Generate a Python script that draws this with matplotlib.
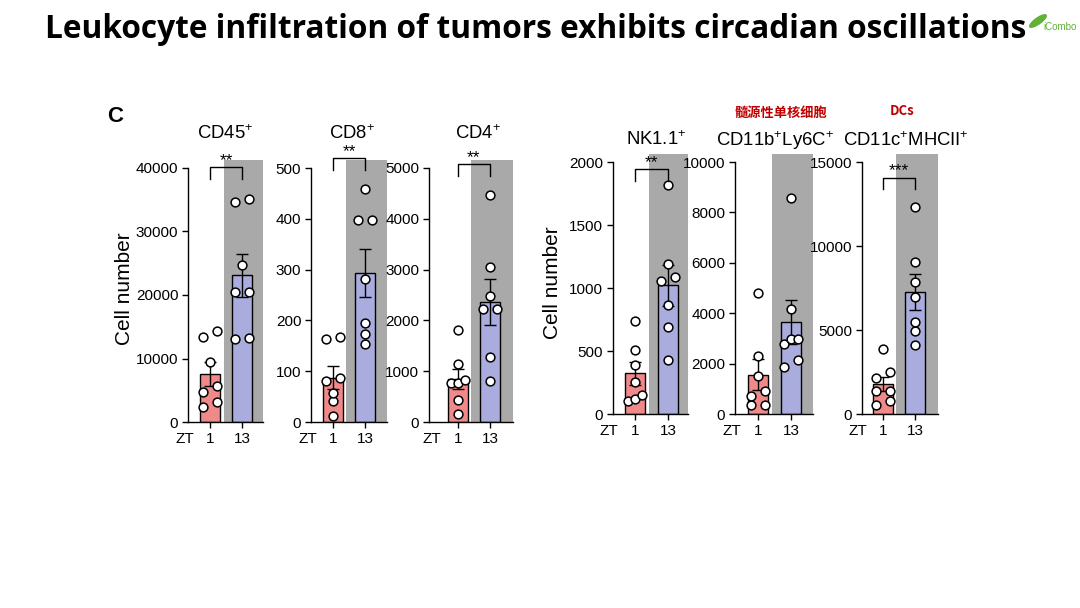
import numpy as np
import matplotlib.pyplot as plt
from matplotlib.patches import Ellipse

plt.rcParams['font.family'] = ['Liberation Sans', 'DejaVu Sans']
plt.rcParams['mathtext.fontset'] = 'custom'
plt.rcParams['mathtext.rm'] = 'Liberation Sans'
plt.rcParams['mathtext.default'] = 'regular'

W, H = 1080, 608

# data (7 mice per time point)
groups = ['1', '13']
titles = [r'CD45$^{+}$', r'CD8$^{+}$', r'CD4$^{+}$', r'NK1.1$^{+}$',
          r'CD11b$^{+}$Ly6C$^{+}$', r'CD11c$^{+}$MHCII$^{+}$']

cd45_zt1 = [2300, 3150, 4700, 5700, 9400, 13400, 14300]
cd45_zt13 = [13000, 13300, 20400, 20400, 24700, 34700, 35100]
cd8_zt1 = [11, 41, 58, 80, 87, 163, 168]
cd8_zt13 = [153, 174, 194, 282, 397, 397, 458]
cd4_zt1 = [150, 440, 770, 770, 822, 1150, 1810]
cd4_zt13 = [803, 1283, 2224, 2224, 2480, 3046, 4460]
nk_zt1 = [100, 119, 153, 253, 390, 504, 741]
nk_zt13 = [425, 694, 865, 1055, 1090, 1190, 1820]
ly6c_zt1 = [370, 370, 720, 920, 1490, 2300, 4800]
ly6c_zt13 = [1880, 2145, 2760, 2960, 2960, 4180, 8570]
dc_zt1 = [550, 750, 1340, 1340, 2130, 2525, 3850]
dc_zt13 = [4100, 4950, 5480, 6960, 7850, 9030, 12330]

zt1 = [cd45_zt1, cd8_zt1, cd4_zt1, nk_zt1, ly6c_zt1, dc_zt1]
zt13 = [cd45_zt13, cd8_zt13, cd4_zt13, nk_zt13, ly6c_zt13, dc_zt13]
ymax = [40000, 500, 5000, 2000, 10000, 15000]
ystep = [10000, 100, 1000, 500, 2000, 5000]
stars = ['**', '**', '**', '**', '', '***']

# layout, in pixels of the reference
ax_left = [188, 311, 429, 613, 735, 862]
ax_right = [263, 387, 513, 688, 813, 938]
x_lo = [-0.69, -0.69, -0.9, -0.67, -0.7, -0.66]
x_hi = [1.65, 1.69, 1.72, 1.6, 1.67, 1.72]
zero_px = [422, 422, 422, 414, 414, 414]
top_px = [168, 168, 168, 162, 162, 162]
bracket_frac = [0.973, 1.008, 0.985, 0.942, 0, 0.911]
title_x = [225, 352, 478, 656, 775, 906]
title_y = [134, 134, 134, 140, 141, 141]

c_zt1 = '#f08a8a'
c_zt13 = '#a9acdc'
c_shade = '#a9a9a9'


def swarm(vals, pos, px_per_unit, thresh=7, step=0.22):
    # spread points that overlap vertically, like the prism scatter
    v = np.sort(np.asarray(vals, dtype=float))
    clusters = [[0]]
    for k in range(1, len(v)):
        if (v[k] - v[k - 1]) * px_per_unit < thresh:
            clusters[-1].append(k)
        else:
            clusters.append([k])
    xs = np.zeros(len(v))
    for c in clusters:
        n = len(c)
        if n == 2:
            offs = [-step, step]
        else:
            offs = (np.arange(n) - (n - 1) / 2) * step
        for k, o in zip(c, offs):
            xs[k] = pos + o
    return xs, v


fig = plt.figure(figsize=(W / 100, H / 100), dpi=100)

for i in range(6):
    top = ymax[i] * 1.03
    h = (zero_px[i] - top_px[i]) * 1.03
    ax = fig.add_axes([ax_left[i] / W, 1 - zero_px[i] / H,
                       (ax_right[i] - ax_left[i]) / W, h / H])
    ax.set_xlim(x_lo[i], x_hi[i])
    ax.set_ylim(0, top)
    ax.patch.set_alpha(0)
    ax.axvspan(0.42, x_hi[i], color=c_shade, lw=0, zorder=0)

    a = np.array(zt1[i], dtype=float)
    b = np.array(zt13[i], dtype=float)
    means = [a.mean(), b.mean()]
    sems = [a.std(ddof=1) / np.sqrt(len(a)), b.std(ddof=1) / np.sqrt(len(b))]

    ax.bar([0, 1], means, width=0.62, color=[c_zt1, c_zt13],
           edgecolor='black', linewidth=1.0, zorder=2)
    ax.errorbar([0, 1], means, yerr=sems, fmt='none', ecolor='black',
                elinewidth=1.0, capsize=4.5, capthick=1.0, zorder=3)

    ppu = (zero_px[i] - top_px[i]) / ymax[i]
    for pos, vals in [(0, a), (1, b)]:
        xs, ys = swarm(vals, pos, ppu)
        ax.scatter(xs, ys, s=40, facecolor='white', edgecolor='black',
                   linewidth=1.1, zorder=4, clip_on=False)

    for s in ['top', 'right']:
        ax.spines[s].set_visible(False)
    ax.spines['left'].set_bounds(0, ymax[i])
    ax.spines['left'].set_linewidth(1.0)
    ax.spines['bottom'].set_linewidth(1.0)
    ax.set_yticks(np.arange(0, ymax[i] + 1, ystep[i]))
    ax.set_xticks([0, 1])
    ax.set_xticklabels(groups)
    ax.tick_params(direction='out', length=4, width=1.0, labelsize=11, pad=3)
    ax.annotate('ZT', xy=(-0.8, 0), xycoords=('data', 'axes fraction'),
                xytext=(0, -7), textcoords='offset points',
                ha='center', va='top', fontsize=11)

    if stars[i]:
        yb = bracket_frac[i] * top
        leg = 0.046 * top
        ax.plot([0, 0, 1, 1], [yb - leg, yb, yb, yb - leg], color='black',
                lw=1.0, clip_on=False, zorder=5)
        ax.annotate(stars[i], xy=(0.5, yb), xytext=(0, 1.5),
                    textcoords='offset points', ha='center', va='baseline',
                    fontsize=12.5, annotation_clip=False)

    fig.text(title_x[i] / W, 1 - title_y[i] / H, titles[i],
             ha='center', va='center', fontsize=13.3)

fig.text(125 / W, 1 - 289 / H, 'Cell number', rotation=90,
         ha='center', va='center', fontsize=15)
fig.text(553 / W, 1 - 283 / H, 'Cell number', rotation=90,
         ha='center', va='center', fontsize=15)

fig.text(115 / W, 1 - 117 / H, 'C', ha='center', va='center',
         fontsize=16, fontweight='bold')
fig.text(781 / W, 1 - 113 / H, '髓源性单核细胞', ha='center', va='center',
         fontsize=9.5, fontweight='bold', color='#c00000',
         family=['Noto Sans CJK SC', 'DejaVu Sans'])
fig.text(902 / W, 1 - 111 / H, 'DCs', ha='center', va='center',
         fontsize=9.5, fontweight='bold', color='#c00000',
         family=['Noto Sans CJK SC', 'DejaVu Sans'])

title = fig.text(536 / W, 1 - 30 / H,
                 'Leukocyte infiltration of tumors exhibits circadian oscillations',
                 ha='center', va='center', fontsize=22, fontweight='bold',
                 family=['Open Sans', 'DejaVu Sans'])
renderer = fig.canvas.get_renderer()
bb = title.get_window_extent(renderer)
title.set_fontsize(22 * 978 / bb.width)

# small logo in the corner
leaf = Ellipse((1038 / W, 1 - 21 / H), 8 / W, 15 / H, angle=-35,
               transform=fig.transFigure, color='#5fb236')
fig.patches.append(leaf)
fig.text(1060 / W, 1 - 27 / H, 'iCombo', ha='center', va='center',
         fontsize=7, color='#5fb236')

fig.savefig('out.png', dpi=100)
